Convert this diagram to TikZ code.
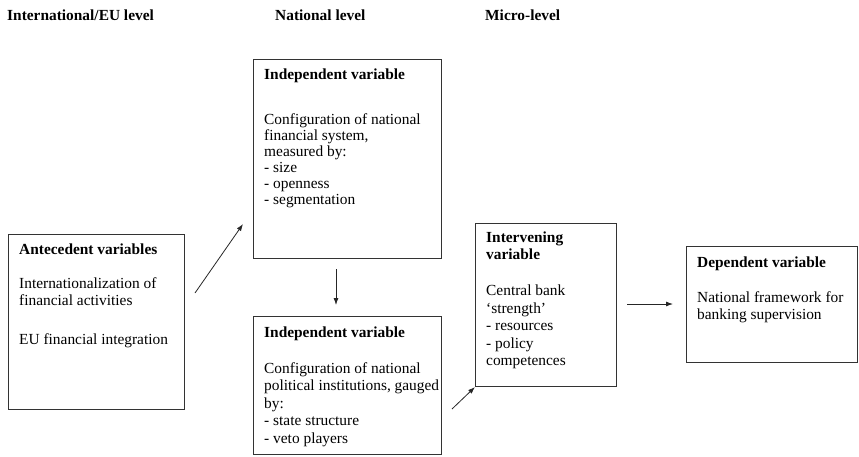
\documentclass[tikz,border=0pt]{standalone}
\usepackage{fontspec}
\setmainfont{Liberation Serif}
\usetikzlibrary{arrows.meta}
\begin{document}
\begin{tikzpicture}[x=1pt,y=-1pt,
  box/.style={draw=black!80, line width=0.8pt, rectangle, inner sep=0pt, anchor=north west},
  txt/.style={inner sep=0pt, anchor=base west, font=\fontsize{15.4}{17.5}\selectfont},
  hdr/.style={inner sep=0pt, anchor=base west, font=\fontsize{15.4}{17.5}\selectfont\bfseries},
  arr/.style={draw=black!85, line width=0.8pt, -{Latex[length=7pt,width=5pt]}}]
\useasboundingbox (0,0) rectangle (859,456);
% headers
\node[hdr] (h1) at (7,20) {International/EU level};
\node[hdr] (h2) at (275,20) {National level};
\node[hdr] (h3) at (485,20) {Micro-level};
% boxes
\node[box, minimum width=176pt, minimum height=175pt] (ante) at (8,234) {};
\node[box, minimum width=188pt, minimum height=199pt] (ind1) at (253,59) {};
\node[box, minimum width=188pt, minimum height=138pt] (ind2) at (253,316) {};
\node[box, minimum width=141pt, minimum height=163pt] (interv) at (475,223) {};
\node[box, minimum width=171pt, minimum height=116pt] (dep) at (686,246) {};
% texts
\node[txt] (antet) at (19,254) {\begin{tabular}[t]{@{}l@{}}\textbf{Antecedent variables}\\[16.5pt]
Internationalization of\\ financial activities\\[21.5pt] EU financial integration\end{tabular}};
\node[txt, font=\fontsize{15.4}{16}\selectfont] (ind1t) at (264,79) {\begin{tabular}[t]{@{}l@{}}\textbf{Independent variable}\\[29pt]
Configuration of national\\ financial system,\\ measured by:\\ - size\\ - openness\\ - segmentation\end{tabular}};
\node[txt] (ind2t) at (264,337) {\begin{tabular}[t]{@{}l@{}}\textbf{Independent variable}\\[18.5pt]
Configuration of national\\ political institutions, gauged\\ by:\\ - state structure\\ - veto players\end{tabular}};
\node[txt] (intervt) at (486,242) {\begin{tabular}[t]{@{}l@{}}\textbf{Intervening}\\ \textbf{variable}\\[18.5pt]
Central bank\\ `strength'\\ - resources\\ - policy\\ competences\end{tabular}};
\node[txt] (dept) at (697,267) {\begin{tabular}[t]{@{}l@{}}\textbf{Dependent variable}\\[17.5pt]
National framework for\\ banking supervision\end{tabular}};
% arrow end points
\coordinate (a1s) at (195,293);
\coordinate (a1e) at (243,224);
\coordinate (a2s) at (336,269);
\coordinate (a2e) at (336,305);
\coordinate (a3s) at (452,409);
\coordinate (a3e) at (475,387);
\coordinate (a4s) at (627,304);
\coordinate (a4e) at (673,304);
\draw[arr] (a1s) -- (a1e);
\draw[arr] (a2s) -- (a2e);
\draw[arr] (a3s) -- (a3e);
\draw[arr] (a4s) -- (a4e);
\end{tikzpicture}
\end{document}
